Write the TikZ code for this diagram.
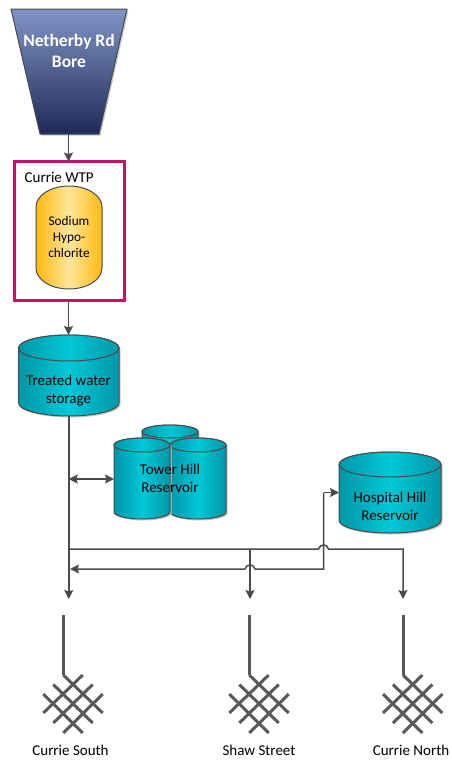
\documentclass[tikz,border=0pt]{standalone}
\usepackage{fontspec}
\setmainfont{Carlito}
\usetikzlibrary{arrows.meta,calc}
\definecolor{ln}{HTML}{4A4A4A}
\definecolor{wire}{HTML}{595959}
\definecolor{pinkb}{HTML}{CC0E66}
\definecolor{tealE}{HTML}{0097A6}
\definecolor{tealM}{HTML}{00C8D8}
\definecolor{yelE}{HTML}{FDBA12}
\definecolor{yelM}{HTML}{FFE59A}
\definecolor{boreT}{HTML}{8094C6}
\definecolor{boreB}{HTML}{1F2A58}
\tikzset{
  conn/.style={draw=ln,line width=1.5pt},
  tip/.style={-{Stealth[length=9pt,width=9pt,inset=1.5pt]}},
  bothtip/.style={{Stealth[length=9pt,width=9pt,inset=1.5pt]}-{Stealth[length=9pt,width=9pt,inset=1.5pt]}},
  anchorbox/.style={inner sep=0pt,outer sep=0pt},
  lab/.style={align=center,inner sep=0pt,font=\fontsize{15}{17.6}\selectfont},
  smalllab/.style={align=center,inner sep=0pt,font=\fontsize{13.3}{16}\selectfont},
  wirel/.style={draw=wire,line width=3pt},
  teal/.style={draw=ln,line width=1pt,left color=tealE,right color=tealE,middle color=tealM},
  yel/.style={draw=ln,line width=1pt,left color=yelE,right color=yelE,middle color=yelM},
}
% tank: style, name, left, right, top, ellipse height, bottom
\newcommand{\tank}[7]{%
  \pgfmathsetmacro{\cxx}{(#3+#4)/2}%
  \pgfmathsetmacro{\rxx}{(#4-#3)/2}%
  \pgfmathsetmacro{\ryy}{#6/2}%
  \pgfmathsetmacro{\ctr}{(#5+#7)/2}%
  \fill[black!22] (#3+1.5,#5+\ryy+1.5) arc[start angle=180,end angle=0,x radius=\rxx,y radius=-\ryy] -- (#4+1.5,#7-\ryy+1.5) arc[start angle=0,end angle=-180,x radius=\rxx,y radius=-\ryy] -- cycle;
  \path[#1] (#3,#5+\ryy) arc[start angle=180,end angle=0,x radius=\rxx,y radius=-\ryy] -- (#4,#7-\ryy) arc[start angle=0,end angle=-180,x radius=\rxx,y radius=-\ryy] -- cycle;
  \path[#1] (\cxx,#5+\ryy) ellipse[x radius=\rxx,y radius=\ryy];
  \node[anchorbox,minimum width=#4pt-#3pt,minimum height=#7pt-#5pt] (#2) at (\cxx,\ctr) {};%
}
% distribution symbol: name, stem x
\newcommand{\distrib}[2]{%
  \coordinate (#1s) at (#2,615);
  \coordinate (#1c) at (#2+9.7,704);
  \draw[wirel] (#1s) -- (#2,675);
  \foreach \k in {0,1,2}{
    \pgfmathsetmacro{\a}{-9.7-10*\k}\pgfmathsetmacro{\b}{-29+9.5*\k}
    \pgfmathsetmacro{\cc}{29.7-10*\k}\pgfmathsetmacro{\dd}{9+10*\k}
    \draw[wirel] ($(#1c)+(\a,\b)$) -- ($(#1c)+(\cc,\dd)$);
    \draw[wirel] ($(#1c)+(-\a,\b)$) -- ($(#1c)+(-\cc,\dd)$);
  }%
}
\begin{document}
\begin{tikzpicture}[x=1pt,y=-1pt]
\useasboundingbox (0,0) rectangle (451,761);
\fill[white] (0,0) rectangle (451,761);
% bore
\fill[black!22] (12.5,10.5) -- (128.5,10.5) -- (100.5,135.5) -- (41.5,135.5) -- cycle;
\path[draw=ln,line width=1pt,top color=boreT,bottom color=boreB] (11,9) -- (127,9) -- (99,134) -- (40,134) -- cycle;
\node[anchorbox,minimum width=59pt,minimum height=125pt] (bore) at (68.5,71.5) {};
\node[anchorbox,align=center,text=white,font=\fontsize{17.5}{21}\selectfont\bfseries] (boretxt) at (69,50.5) {Netherby Rd\\Bore};
% WTP
\node[anchorbox,draw=pinkb,line width=3pt,fill=white,minimum width=110.5pt,minimum height=138.5pt] (wtp) at (69.3,230.8) {};
\node[lab,anchor=west] (wtptxt) at (24.5,177) {Currie WTP};
% hypochlorite vessel
\path[yel] (36,207) arc[start angle=180,end angle=0,x radius=33,y radius=-21] -- (102,268) arc[start angle=0,end angle=-180,x radius=33,y radius=-21] -- cycle;
\node[anchorbox,minimum width=66pt,minimum height=103pt] (naocl) at (69,237.5) {};
\node[smalllab] (naocltxt) at (69,237) {Sodium\\Hypo-\\chlorite};
% storage
\tank{teal}{treated}{18.5}{119}{335}{26}{416}
\node[lab] (treatedtxt) at (68.5,390.5) {Treated water\\storage};
% Tower Hill
\tank{teal}{towerback}{142}{198}{425}{13}{465}
\tank{teal}{towerright}{170}{226}{438}{14}{519}
\tank{teal}{towerleft}{114}{170}{438}{14}{519}
\node[lab] (towertxt) at (170,478.5) {Tower Hill\\Reservoir};
% Hospital
\tank{teal}{hospital}{339}{441}{452}{25}{533}
\node[lab] (hospitaltxt) at (390,506.5) {Hospital Hill\\Reservoir};
% connector points
\coordinate (trunkA) at (treated.south |- 0,549);
\coordinate (trunkB) at (treated.south |- 0,479);
\coordinate (trunkC) at (70,569);
\coordinate (southEnd) at (treated.south |- 0,599);
\coordinate (shawTop) at (250,549);
\coordinate (shawEnd) at (250,599);
\coordinate (northEnd) at (403,599);
\coordinate (northTop) at (403,549);
\coordinate (retCorner) at (323.5,569);
\coordinate (jumpH) at (323.5,549);
\coordinate (jumpS) at (250,569);
% connectors
\draw[conn,tip] (bore.south) -- (wtp.north -| bore.south);
\draw[conn,tip] (wtp.south -| bore.south) -- (treated.north -| bore.south);
\draw[conn,tip] (treated.south) -- (southEnd);
\draw[conn,bothtip] (trunkB) -- (towerleft.west |- trunkB);
\draw[conn,tip] (trunkA) -- ($(jumpH)+(-5,0)$) .. controls ($(jumpH)+(-3.5,-5.5)$) and ($(jumpH)+(3.5,-5.5)$) .. ($(jumpH)+(5,0)$) -- (northTop) -- (northEnd);
\draw[conn,tip] (shawTop) -- (shawEnd);
\draw[conn,tip] (hospital.west -| retCorner) -- (hospital.west);
\draw[conn,tip] (hospital.west -| retCorner) -- (retCorner) -- ($(jumpS)+(5,0)$) .. controls ($(jumpS)+(3.5,-5.5)$) and ($(jumpS)+(-3.5,-5.5)$) .. ($(jumpS)+(-5,0)$) -- (trunkC);
% distribution zones
\distrib{cs}{63.3}
\distrib{ss}{249.3}
\distrib{cn}{403}
\node[lab] (cstxt) at (70.5,750.5) {Currie South};
\node[lab] (sstxt) at (259,750.5) {Shaw Street};
\node[lab] (cntxt) at (411,750.5) {Currie North};
\end{tikzpicture}
\end{document}
